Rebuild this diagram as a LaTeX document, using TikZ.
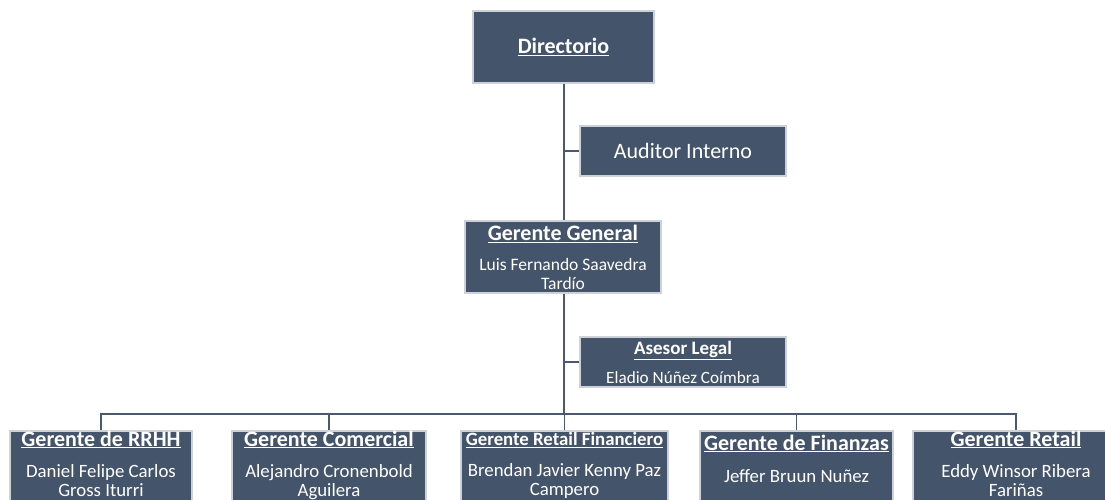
\documentclass[tikz,border=0pt]{standalone}
\usepackage{fontspec}
\setmainfont{Carlito}
\usetikzlibrary{positioning}
\definecolor{cardfill}{HTML}{44546A}
\definecolor{cardedge}{HTML}{CDD2D9}
\definecolor{linkc}{HTML}{4A596E}
\newcommand{\ttl}[1]{\underline{\textbf{#1}}}
\newcommand{\fs}[2][19]{\fontsize{#2}{#1}\selectfont}
\tikzset{
  card/.style={fill=cardfill, draw=cardedge, line width=1.2pt, inner sep=0pt,
    text=white, align=center},
  cardtext/.style={text=white, align=center, inner sep=0pt},
  link/.style={draw=linkc, line width=1.4pt},
}
\begin{document}
\begin{tikzpicture}[x=1pt,y=-1pt]
  \useasboundingbox (0,0) rectangle (1105,499);
  \clip (0,0) rectangle (1105,499);
  % top of the chart
  \node[card, minimum width=181, minimum height=72, font=\fs{22}] (dir) at (563.5,47) {\ttl{Directorio}};
  \node[card, minimum width=206, minimum height=50, font=\fs{22}] (aud) at (683,151) {Auditor Interno};
  \node[card, minimum width=196, minimum height=72, font=\fs{17.5}] (gg) at (563,257)
    {{\fs{22}\ttl{Gerente General}}\\[11pt]Luis Fernando Saavedra\\Tard\'{\i}o};
  \node[card, minimum width=206, minimum height=50, font=\fs{17.2}] (ase) at (683,362)
    {{\fs{19}\ttl{Asesor Legal}}\\[10pt]Eladio Núñez Coímbra};
  % managers
  \node[card, minimum width=182, minimum height=90] (rrhh) at (101,476) {};
  \node[card, minimum width=194, minimum height=90] (com) at (329,476) {};
  \node[card, minimum width=207, minimum height=90] (rfin) at (564.5,476) {};
  \node[card, minimum width=193, minimum height=90] (fin) at (796.5,476) {};
  \node[card, minimum width=206, minimum height=90] (ret) at (1016,476) {};
  \node[cardtext, font=\fs{18.8}, below=0pt of rrhh.north] (rrhh-t)
    {{\fs{22}\ttl{Gerente de RRHH}}\\[12pt]Daniel Felipe Carlos\\Gross Iturri};
  \node[cardtext, font=\fs{18.8}, below=0pt of com.north] (com-t)
    {{\fs{22}\ttl{Gerente Comercial}}\\[12pt]Alejandro Cronenbold\\Aguilera};
  \node[cardtext, font=\fs{18.8}, below=2pt of rfin.north] (rfin-t)
    {{\fs{18.8}\ttl{Gerente Retail Financiero}}\\[12pt]Brendan Javier Kenny Paz\\Campero};
  \node[cardtext, font=\fs{18.8}, below=4pt of fin.north] (fin-t)
    {{\fs{22}\ttl{Gerente de Finanzas}}\\[13pt]Jeffer Bruun Nuñez};
  \node[cardtext, font=\fs{18.8}, below=0pt of ret.north] (ret-t)
    {{\fs{22}\ttl{Gerente Retail}}\\[12pt]Eddy Winsor Ribera\\Fariñas};
  % connectors
  \coordinate (bus) at (564,414);
  \draw[link] (dir.south -| bus) -- (gg.north -| bus);
  \draw[link] (aud.west -| bus) -- (aud.west);
  \draw[link] (gg.south -| bus) -- (bus);
  \draw[link] (ase.west -| bus) -- (ase.west);
  \foreach \n in {rrhh,com,rfin,fin,ret}
    \draw[link] (bus) -| (\n.north);
\end{tikzpicture}
\end{document}
